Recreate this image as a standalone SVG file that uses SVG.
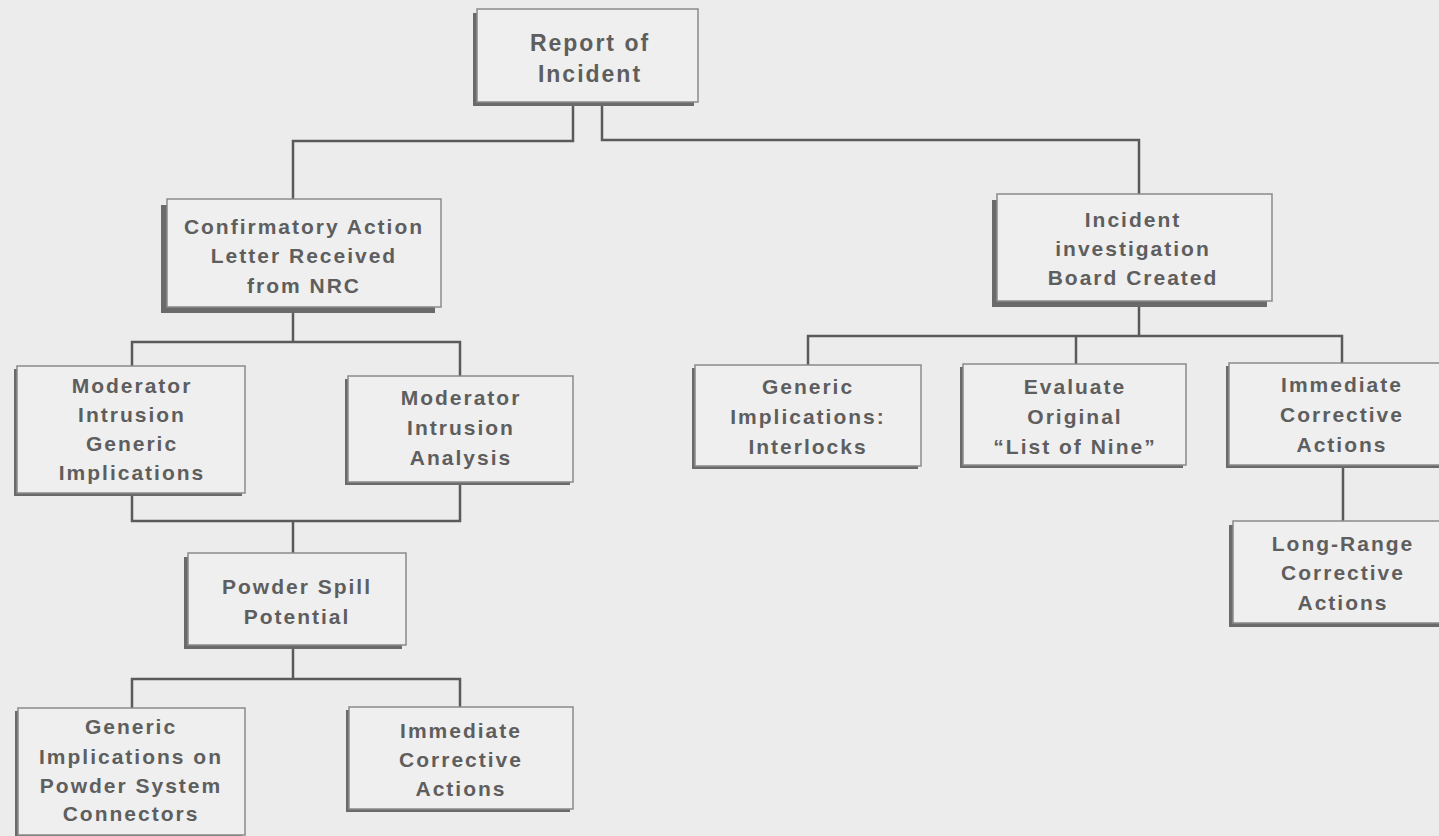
<svg xmlns="http://www.w3.org/2000/svg" width="1439" height="836" viewBox="0 0 1439 836">
<style>
.bg{fill:#ececec}
.shadow{fill:#6a6a6a}
.box{fill:#efefef;stroke:#8a8a8a;stroke-width:1.5}
.lbl{font-family:"Liberation Sans",Arial,Helvetica,sans-serif;font-weight:bold;font-size:21px;letter-spacing:2px;fill:#5e5e5e;text-anchor:middle}
.big{font-size:23px}
.conn{fill:none;stroke:#5a5a5a;stroke-width:2.5}
</style>
<rect class="bg" x="0" y="0" width="1439" height="836"/>
<g id="connectors">
<path class="conn" d="M573 104 V141 H293 V199"/>
<path class="conn" d="M602 104 V140 H1139 V194"/>
<path class="conn" d="M293 312 V342"/>
<path class="conn" d="M132 366 V342 H460 V376"/>
<path class="conn" d="M132 496 V521 H460 V484"/>
<path class="conn" d="M293 521 V553"/>
<path class="conn" d="M293 649 V679"/>
<path class="conn" d="M132 708 V679 H460 V707"/>
<path class="conn" d="M1139 307 V336"/>
<path class="conn" d="M808 365 V336 H1342 V363"/>
<path class="conn" d="M1076 336 V364"/>
<path class="conn" d="M1343 468 V521"/>
</g>
<g id="report">
<rect class="shadow" x="473" y="13" width="221" height="93"/>
<rect class="box" x="477" y="9" width="221" height="93"/>
<text class="lbl big" x="590" y="51">Report of</text>
<text class="lbl big" x="590" y="82">Incident</text>
</g>
<g id="confirmatory">
<rect class="shadow" x="161" y="205" width="274" height="108"/>
<rect class="box" x="167" y="199" width="274" height="108"/>
<text class="lbl" x="304" y="234">Confirmatory Action</text>
<text class="lbl" x="304" y="263">Letter Received</text>
<text class="lbl" x="304" y="293">from NRC</text>
</g>
<g id="moderator-generic">
<rect class="shadow" x="14" y="369" width="228" height="127"/>
<rect class="box" x="17" y="366" width="228" height="127"/>
<text class="lbl" x="132" y="393">Moderator</text>
<text class="lbl" x="132" y="422">Intrusion</text>
<text class="lbl" x="132" y="451">Generic</text>
<text class="lbl" x="132" y="480">Implications</text>
</g>
<g id="moderator-analysis">
<rect class="shadow" x="345" y="379" width="225" height="106"/>
<rect class="box" x="348" y="376" width="225" height="106"/>
<text class="lbl" x="461" y="405">Moderator</text>
<text class="lbl" x="461" y="435">Intrusion</text>
<text class="lbl" x="461" y="465">Analysis</text>
</g>
<g id="powder-spill">
<rect class="shadow" x="184" y="557" width="218" height="92"/>
<rect class="box" x="188" y="553" width="218" height="92"/>
<text class="lbl" x="297" y="594">Powder Spill</text>
<text class="lbl" x="297" y="624">Potential</text>
</g>
<g id="generic-powder">
<rect class="shadow" x="15" y="711" width="227" height="130"/>
<rect class="box" x="18" y="708" width="227" height="127"/>
<text class="lbl" x="131" y="734">Generic</text>
<text class="lbl" x="131" y="764">Implications on</text>
<text class="lbl" x="131" y="793">Powder System</text>
<text class="lbl" x="131" y="821">Connectors</text>
</g>
<g id="immediate-left">
<rect class="shadow" x="346" y="710" width="224" height="102"/>
<rect class="box" x="349" y="707" width="224" height="102"/>
<text class="lbl" x="461" y="738">Immediate</text>
<text class="lbl" x="461" y="767">Corrective</text>
<text class="lbl" x="461" y="796">Actions</text>
</g>
<g id="incident-board">
<rect class="shadow" x="992" y="200" width="275" height="107"/>
<rect class="box" x="997" y="194" width="275" height="107"/>
<text class="lbl" x="1133" y="227">Incident</text>
<text class="lbl" x="1133" y="256">investigation</text>
<text class="lbl" x="1133" y="285">Board Created</text>
</g>
<g id="generic-interlocks">
<rect class="shadow" x="692" y="368" width="226" height="101"/>
<rect class="box" x="695" y="365" width="226" height="101"/>
<text class="lbl" x="808" y="394">Generic</text>
<text class="lbl" x="808" y="424">Implications:</text>
<text class="lbl" x="808" y="454">Interlocks</text>
</g>
<g id="evaluate-original">
<rect class="shadow" x="960" y="367" width="223" height="101"/>
<rect class="box" x="963" y="364" width="223" height="101"/>
<text class="lbl" x="1075" y="394">Evaluate</text>
<text class="lbl" x="1075" y="424">Original</text>
<text class="lbl" x="1075" y="454">“List of Nine”</text>
</g>
<g id="immediate-right">
<rect class="shadow" x="1226" y="366" width="240" height="102"/>
<rect class="box" x="1229" y="363" width="240" height="102"/>
<text class="lbl" x="1342" y="392">Immediate</text>
<text class="lbl" x="1342" y="422">Corrective</text>
<text class="lbl" x="1342" y="452">Actions</text>
</g>
<g id="long-range">
<rect class="shadow" x="1229" y="525" width="240" height="102"/>
<rect class="box" x="1233" y="521" width="240" height="102"/>
<text class="lbl" x="1343" y="551">Long-Range</text>
<text class="lbl" x="1343" y="580">Corrective</text>
<text class="lbl" x="1343" y="610">Actions</text>
</g>
</svg>
